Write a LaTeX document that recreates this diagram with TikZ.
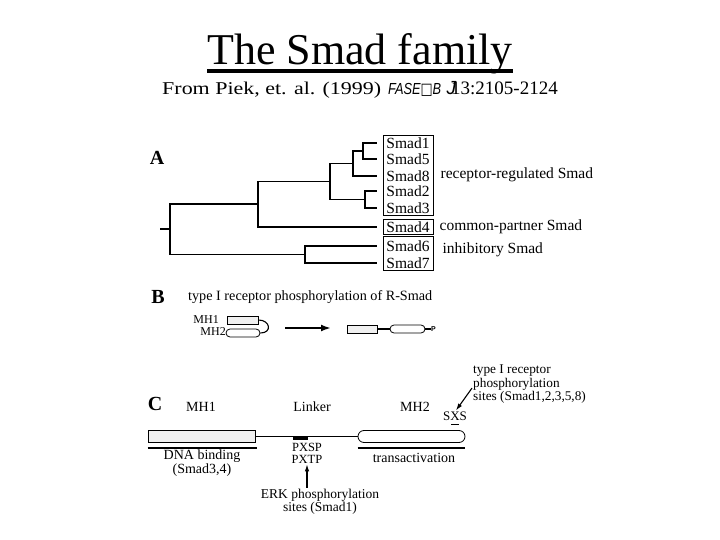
\documentclass[tikz,border=0pt]{standalone}
\usepackage{fontspec}
\setmainfont{Liberation Serif}
\setsansfont{Liberation Sans}
\newfontfamily\boxglyph{DejaVu Sans}
\usepackage{tikz}
\usetikzlibrary{arrows.meta, positioning, calc}
\tikzset{
  treeline/.style={line width=1.8pt},
  grpbox/.style={draw, line width=0.9pt, inner sep=0},
  leaf/.style={
    font=\fontsize{15.5}{15.5}\selectfont, minimum width=62pt, inner sep=0
  },
  grplabel/.style={
    font=\fontsize{15.5}{15.5}\selectfont, anchor=west, inner sep=0
  },
  panelletter/.style={
    font=\bfseries\fontsize{20}{20}\selectfont, inner sep=0
  },
  mhlabel/.style={
    font=\fontsize{12}{12}\selectfont, anchor=east, inner sep=0
  },
  ctext/.style={
    font=\fontsize{14}{12}\selectfont, inner sep=1pt
  },
  dombox/.style={draw, line width=0.8pt, fill=gray!12, inner sep=0},
  domround/.style={draw, line width=0.8pt, rounded corners=4pt, inner sep=0},
  thinlink/.style={line width=1.1pt},
  bigarrow/.style={-{Latex[length=10pt, width=7pt]}, line width=2pt},
  ptarrow/.style={-{Latex[length=7pt, width=4.5pt]}, line width=1.1pt},
}

\begin{document}
\begin{tikzpicture}[x=1pt, y=-1pt]
  \useasboundingbox (0,0) rectangle (720,540);
  \fill[white] (0,0) rectangle (720,540);

  % ---- TITLE ----
  \node[anchor=base, inner sep=0, font=\fontsize{44}{44}\selectfont]
    (title) at (360,65) {The Smad family};
  \draw[line width=3.5pt] ([yshift=-6pt]title.base west)
    -- ([yshift=-6pt]title.base east);

  \node[anchor=base west, inner sep=0, xscale=1.22,
    font=\fontsize{18}{18}\selectfont] (cite) at (162,95)
    {From Piek, et. al. (1999)};
  \node[anchor=base west, inner sep=0, xscale=0.8,
    font=\sffamily\itshape\fontsize{16}{16}\selectfont] (journal) at (388,95)
    {FASE{\boxglyph\upshape □}B};
  \node[anchor=base east, inner sep=0,
    font=\fontsize{19}{19}\selectfont] (pages) at (558,95)
    {{\sffamily\itshape J}\kern-5pt 13:2105-2124};

  % ---- A: tree ----
  \node[panelletter] (labA) at (157,158) {A};

  \foreach \n/\y in {1/143, 5/159, 8/176, 2/191, 3/208, 4/227, 6/246, 7/263}
    \node[leaf] (s\n) at (408,\y) {Smad\n};

  % branch points
  \coordinate (a15) at (363,151);
  \coordinate (a158) at (353,163.5);
  \coordinate (a23) at (365,199.5);
  \coordinate (aR) at (330,181.5);
  \coordinate (aRC) at (258,204);
  \coordinate (a67) at (305,254.5);
  \coordinate (root) at (170,229);
  \coordinate (stub) at (160,229);

  \draw[treeline] (a15) |- (s1.west) (a15) |- (s5.west);
  \draw[treeline] (a158) |- (a15) (a158) |- (s8.west);
  \draw[treeline] (a23) |- (s2.west) (a23) |- (s3.west);
  \draw[treeline] (aR) |- (a158) (aR) |- (a23);
  \draw[treeline] (aRC) |- (aR) (aRC) |- (s4.west);
  \draw[treeline] (a67) |- (s6.west) (a67) |- (s7.west);
  \draw[treeline] (root) |- (aRC) (root) |- (a67);
  \draw[treeline] (stub) -- (root);

  % groups
  \node[grpbox, minimum width=50, minimum height=80] (rbox) at (408,175) {};
  \node[grpbox, minimum width=50, minimum height=15] (cbox) at (408,226.5) {};
  \node[grpbox, minimum width=50, minimum height=34] (ibox) at (408,253) {};

  \node[grplabel, right=7pt of rbox] (rlab) {receptor-regulated Smad};
  \node[grplabel, right=6pt of cbox] (clab) {common-partner Smad};
  \node[grplabel, right=9pt of ibox, yshift=3pt] (ilab) {inhibitory Smad};

  % ---- B: activation ----
  \node[panelletter] (labB) at (158,297) {B};
  \node[anchor=west, inner sep=0, font=\fontsize{14.2}{14.2}\selectfont]
    (btitle) at (188,297) {type I receptor phosphorylation of R-Smad};

  \node[mhlabel] (mh1) at (219,320) {MH1};
  \node[mhlabel] (mh2) at (226,332) {MH2};
  \node[dombox, minimum width=31, minimum height=8] (b1) at (242.5,320) {};
  \node[domround, minimum width=34, minimum height=8] (b2) at (243,333) {};
  \draw[thinlink] (b1.east) .. controls +(12,0) and +(12,0) .. (b2.east);

  \coordinate (arS) at (285,328);
  \coordinate (arE) at (331,328);
  \draw[bigarrow] (arS) -- (arE);

  \node[dombox, minimum width=30, minimum height=8] (pr) at (362,329) {};
  \node[domround, minimum width=35, minimum height=8] (pm) at (407.5,329) {};
  \node[anchor=west, inner sep=0,
    font=\sffamily\bfseries\fontsize{7}{7}\selectfont] (phos) at (431,329) {P};
  \draw[thinlink] (pr) -- (pm);
  \draw[thinlink] (pm) -- (phos);

  % ---- C: domain structure ----
  \node[panelletter] (labC) at (155,404) {C};
  \node[ctext] (cmh1lab) at (201,407) {MH1};
  \node[ctext] (linklab) at (312,407) {Linker};
  \node[ctext] (cmh2lab) at (415,407) {MH2};

  \node[dombox, minimum width=107, minimum height=12] (c1) at (201.5,436.5) {};
  \node[domround, rounded corners=6pt, minimum width=107, minimum height=12]
    (c2) at (411.5,436.5) {};
  \draw[line width=1.8pt] (c1) -- (c2);
  \node[fill=black, minimum width=15, minimum height=4, inner sep=0]
    (erkblk) at (300,437.5) {};

  \draw[line width=2pt] ([yshift=-5pt]c1.south west)
    -- ([xshift=2pt, yshift=-5pt]c1.south east);
  \draw[line width=2.4pt] ([yshift=-5pt]c2.south west)
    -- ([yshift=-5pt]c2.south east);

  \node[ctext, align=center] (dna) at (202,463) {DNA binding\\(Smad3,4)};
  \node[ctext, align=center, font=\fontsize{12.5}{12}\selectfont]
    (sites) at (307,453) {PXSP\\PXTP};
  \node[ctext] (trans) at (414,458) {transactivation};
  \node[ctext, align=center, font=\fontsize{13.5}{13}\selectfont]
    (erk) at (320,501.5) {ERK phosphorylation\\sites (Smad1)};
  \draw[ptarrow] (sites.south |- erk.north) -- (sites.south);

  \node[ctext, font=\fontsize{13}{13}\selectfont] (sxs) at (455,416) {SXS};
  \draw[line width=1.6pt] ([xshift=-4pt, yshift=-3pt]sxs.south)
    -- ([xshift=4pt, yshift=-3pt]sxs.south);
  \node[ctext, align=left, anchor=north west,
    font=\fontsize{13.3}{11}\selectfont] (typeI) at (472,364)
    {type I receptor\\phosphorylation\\sites (Smad1,2,3,5,8)};
  \draw[ptarrow] ([yshift=-4pt]typeI.west) -- ([xshift=1pt]sxs.north);
\end{tikzpicture}
\end{document}
